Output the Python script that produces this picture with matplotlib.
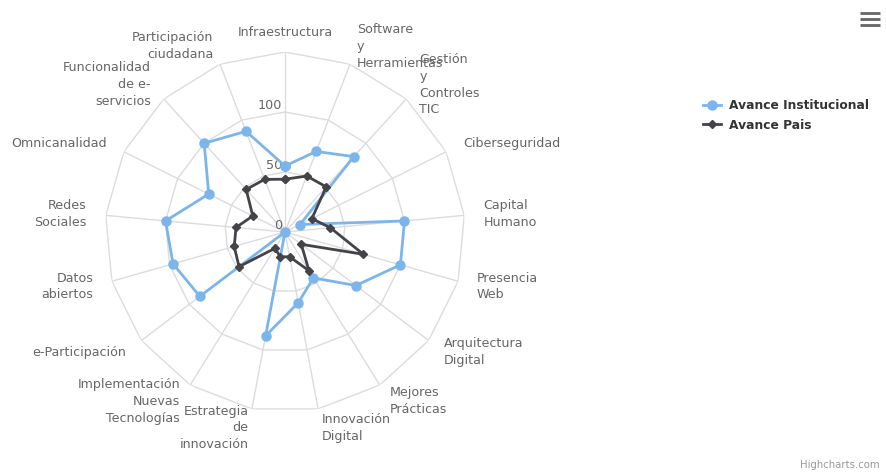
import numpy as np
import matplotlib
matplotlib.use("Agg")
import matplotlib.pyplot as plt
from matplotlib.lines import Line2D

# Categorias del radar (orden horario desde arriba)
categorias = [
    "Infraestructura",
    "Software\ny\nHerramientas",
    "Gestión\ny\nControles\nTIC",
    "Ciberseguridad",
    "Capital\nHumano",
    "Presencia\nWeb",
    "Arquitectura\nDigital",
    "Mejores\nPrácticas",
    "Innovación\nDigital",
    "Estrategia\nde\ninnovación",
    "Implementación\nNuevas\nTecnologías",
    "e-Participación",
    "Datos\nabiertos",
    "Redes\nSociales",
    "Omnicanalidad",
    "Funcionalidad\nde e-\nservicios",
    "Participación\nciudadana",
]

avance_institucional = [55, 72, 85, 14, 100, 100, 74, 45, 60, 88, 0, 89, 97, 100, 71, 100, 90]
avance_pais = [44, 50, 51, 25, 38, 68, 17, 38, 21, 21, 16, 48, 44, 41, 30, 48, 47]

niveles = [50, 100, 150]
etiquetas_y = ["0", "50", "100"]

W, H = 886, 472
fig = plt.figure(figsize=(W / 100, H / 100), dpi=100)

# centro del radar en (285, 232) px, radio 180 px
cx, cy, R = 285, 232, 180
ax = fig.add_axes([(cx - R) / W, (H - cy - R) / H, 2 * R / W, 2 * R / H], projection="polar")
ax.set_theta_zero_location("N")
ax.set_theta_direction(-1)
ax.set_ylim(0, 150)
ax.grid(False)
ax.set_xticks([])
ax.set_yticks([])
ax.spines["polar"].set_visible(False)
ax.patch.set_alpha(0)

n = len(categorias)
ang = np.arange(n) * 2 * np.pi / n
ang_c = np.append(ang, ang[0])

# rejilla poligonal
gris = "#dcdcdc"
for v in niveles:
    ax.plot(ang_c, [v] * (n + 1), color=gris, lw=1, zorder=1)
for a in ang:
    ax.plot([a, a], [0, niveles[-1]], color=gris, lw=1, zorder=1)

# etiquetas del eje radial
for v, t in zip([0, 50, 100], etiquetas_y):
    ax.annotate(t, xy=(0, v), xytext=(-2.2, 5), textcoords="offset points",
                ha="right", va="center", fontsize=9.2, color="#666666", zorder=2)

# etiquetas de categorias
for a, c in zip(ang, categorias):
    deg = np.degrees(a)
    if deg < 1 or abs(deg - 180) < 1:
        ha = "center"
    elif deg < 180:
        ha = "left"
    else:
        ha = "right"
    ax.text(a, 166, c, ha=ha, va="center", fontsize=9.1, color="#666666",
            linespacing=1.38, clip_on=False)

# series
inst = np.append(avance_institucional, avance_institucional[0])
pais = np.append(avance_pais, avance_pais[0])
l1, = ax.plot(ang_c, inst, color="#7cb5ec", lw=2, marker="o", markersize=6.5,
              zorder=4, label="Avance Institucional")
l2, = ax.plot(ang_c, pais, color="#434348", lw=2, marker="D", markersize=4.5,
              zorder=5, label="Avance Pais")

fig.legend(handles=[l1, l2], loc="upper left", bbox_to_anchor=(703 / W, 1 - 99 / H),
           frameon=False, borderpad=0, borderaxespad=0, handlelength=1.5,
           handletextpad=0.6, labelspacing=0.55,
           prop={"size": 8.8, "weight": "bold"}, labelcolor="#333333")

# creditos y menu
fig.text(880 / W, 1 - 465 / H, "Highcharts.com", ha="right", va="center",
         fontsize=7.3, color="#999999")
for yy in [13, 19, 25]:
    fig.add_artist(Line2D([860 / W, 880 / W], [1 - yy / H, 1 - yy / H],
                          color="#666666", lw=2, solid_capstyle="butt"))

fig.savefig("out.png", dpi=100)
